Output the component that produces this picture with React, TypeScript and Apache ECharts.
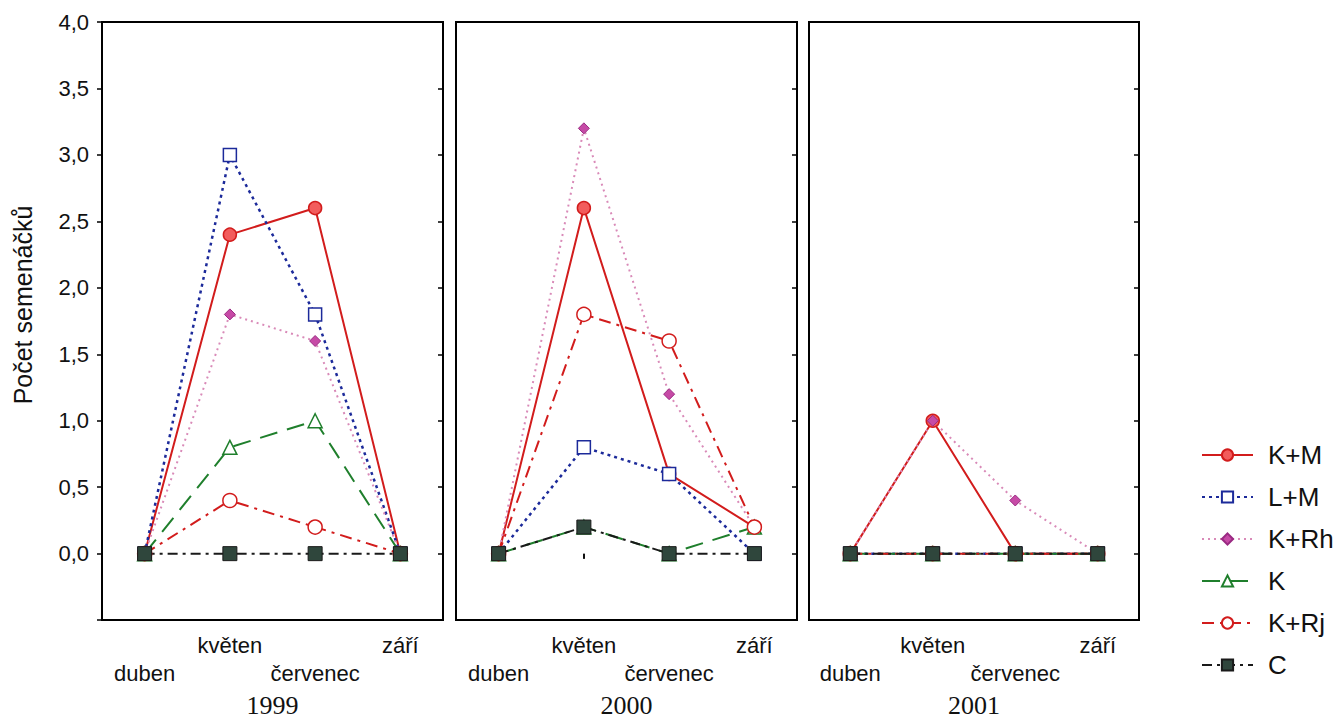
import React, { useEffect, useRef } from "react";
import * as echarts from "echarts";

const months = ["duben", "květen", "červenec", "září"];
const years = ["1999", "2000", "2001"];
const yRange = [-0.5, 4.0];

// values per year: [1999, 2000, 2001], each over months
const KM = [
  [0, 2.4, 2.6, 0],
  [0, 2.6, 0.6, 0.2],
  [0, 1.0, 0, 0],
];
const LM = [
  [0, 3.0, 1.8, 0],
  [0, 0.8, 0.6, 0],
  [0, 0, 0, 0],
];
const KRh = [
  [0, 1.8, 1.6, 0],
  [0, 3.2, 1.2, 0.2],
  [0, 1.0, 0.4, 0],
];
const K = [
  [0, 0.8, 1.0, 0],
  [0, 0.2, 0, 0.2],
  [0, 0, 0, 0],
];
const KRj = [
  [0, 0.4, 0.2, 0],
  [0, 1.8, 1.6, 0.2],
  [0, 0, 0, 0],
];
const C = [
  [0, 0, 0, 0],
  [0, 0.2, 0, 0],
  [0, 0, 0, 0],
];

const seriesDefs = [
  {
    name: "K+M",
    data: KM,
    symbol: "circle",
    symbolSize: 13,
    lineStyle: { color: "#d21c1c", width: 2, type: "solid" },
    itemStyle: { color: "#f25c5c", borderColor: "#d21c1c", borderWidth: 1.5 },
  },
  {
    name: "L+M",
    data: LM,
    symbol: "rect",
    symbolSize: 13,
    lineStyle: { color: "#1c2a9a", width: 2.5, type: [3, 4] },
    itemStyle: { color: "#ffffff", borderColor: "#1c2a9a", borderWidth: 1.5 },
  },
  {
    name: "K+Rh",
    data: KRh,
    symbol: "diamond",
    symbolSize: 11,
    lineStyle: { color: "#d98ab8", width: 2, type: [2, 4] },
    itemStyle: { color: "#c64aa6", borderColor: "#9a2a82", borderWidth: 1 },
  },
  {
    name: "K",
    data: K,
    symbol: "triangle",
    symbolSize: 14,
    lineStyle: { color: "#1f7f2c", width: 2, type: [18, 10] },
    itemStyle: { color: "#ffffff", borderColor: "#1f7f2c", borderWidth: 1.5 },
  },
  {
    name: "K+Rj",
    data: KRj,
    symbol: "circle",
    symbolSize: 14,
    lineStyle: { color: "#d21c1c", width: 2, type: [12, 6, 3, 6] },
    itemStyle: { color: "#ffffff", borderColor: "#d21c1c", borderWidth: 1.5 },
  },
  {
    name: "C",
    data: C,
    symbol: "rect",
    symbolSize: 14,
    lineStyle: { color: "#1a1a1a", width: 2, type: [10, 5, 3, 5] },
    itemStyle: { color: "#2f463c", borderColor: "#1a1a1a", borderWidth: 1 },
  },
];

const panels = [
  { left: 102, width: 341 },
  { left: 456, width: 341 },
  { left: 809, width: 330 },
];

const fmt = (v: number) => (v < 0 ? "" : v.toFixed(1).replace(".", ","));

export default function App() {
  const ref = useRef<HTMLDivElement>(null);
  useEffect(() => {
    if (!ref.current) return;
    const chart = echarts.init(ref.current, undefined, { renderer: "svg" });
    const grids = panels.map((p) => ({
      left: p.left,
      top: 22,
      width: p.width,
      height: 601,
      show: true,
      borderColor: "#000",
      borderWidth: 2,
      backgroundColor: "transparent",
    }));
    const xAxes: any[] = [];
    panels.forEach((_, i) => {
      xAxes.push({
        type: "category",
        gridIndex: i,
        data: months,
        position: "bottom",
        boundaryGap: true,
        axisLine: { show: false },
        axisTick: { show: true, alignWithLabel: true, inside: false, length: 5, lineStyle: { color: "#000", width: 1.5 } },
        axisLabel: {
          fontFamily: "Liberation Sans",
          fontSize: 22,
          color: "#111",
          margin: 11,
          lineHeight: 28,
          interval: 0,
          formatter: (v: string, idx: number) => (idx % 2 === 0 ? "\n" + v : v),
        },
        name: years[i],
        nameLocation: "middle",
        nameGap: 71,
        nameTextStyle: { fontFamily: "Liberation Serif", fontSize: 26, color: "#111" },
      });
    });
    panels.forEach((_, i) => {
      xAxes.push({
        type: "category",
        gridIndex: i,
        data: months,
        position: "top",
        boundaryGap: true,
        axisLine: { show: false },
        axisTick: { show: true, alignWithLabel: true, inside: true, length: 5, lineStyle: { color: "#000", width: 1.5 } },
        axisLabel: { show: false },
      });
    });
    const yAxes: any[] = [];
    panels.forEach((_, i) => {
      yAxes.push({
        type: "value",
        gridIndex: i,
        position: "left",
        min: yRange[0],
        max: yRange[1],
        interval: 0.5,
        splitLine: { show: false },
        axisLine: { show: false },
        axisTick: { show: i === 0, inside: false, length: 5, lineStyle: { color: "#000", width: 1.5 } },
        axisLabel: {
          show: i === 0,
          fontFamily: "Liberation Sans",
          fontSize: 22,
          color: "#111",
          margin: 13,
          formatter: fmt,
        },
      });
    });
    panels.forEach((_, i) => {
      yAxes.push({
        type: "value",
        gridIndex: i,
        position: "right",
        min: yRange[0],
        max: yRange[1],
        interval: 0.5,
        splitLine: { show: false },
        axisLine: { show: false },
        axisTick: { show: true, inside: true, length: 5, lineStyle: { color: "#000", width: 1.5 } },
        axisLabel: { show: false },
      });
    });
    const series: any[] = [];
    panels.forEach((_, i) => {
      seriesDefs.forEach((s) => {
        series.push({
          type: "line",
          name: s.name,
          xAxisIndex: i,
          yAxisIndex: i,
          data: s.data[i],
          symbol: s.symbol,
          symbolSize: s.symbolSize,
          showAllSymbol: true,
          lineStyle: s.lineStyle,
          itemStyle: s.itemStyle,
          emphasis: { disabled: true },
        });
      });
    });
    chart.setOption({
      animation: false,
      backgroundColor: "#fff",
      grid: grids,
      xAxis: xAxes,
      yAxis: yAxes,
      series,
      legend: {
        orient: "vertical",
        left: 1196,
        top: 437,
        itemWidth: 51,
        itemHeight: 14,
        itemGap: 16,
        data: seriesDefs.map((s) => s.name),
        textStyle: { fontFamily: "Liberation Sans", fontSize: 26, color: "#111", padding: [0, 0, 0, 10] },
        selectedMode: false,
      },
      graphic: [
        {
          type: "text",
          x: 23,
          y: 305,
          rotation: Math.PI / 2,
          style: {
            text: "Počet semenáčků",
            fontFamily: "Liberation Sans",
            fontSize: 25,
            fill: "#111",
            textAlign: "center",
            textVerticalAlign: "middle",
          },
        },
      ],
    });
    return () => chart.dispose();
  }, []);
  return (
    <div
      ref={ref}
      style={{ position: "absolute", left: 0, top: 0, width: 1340, height: 723 }}
    />
  );
}
